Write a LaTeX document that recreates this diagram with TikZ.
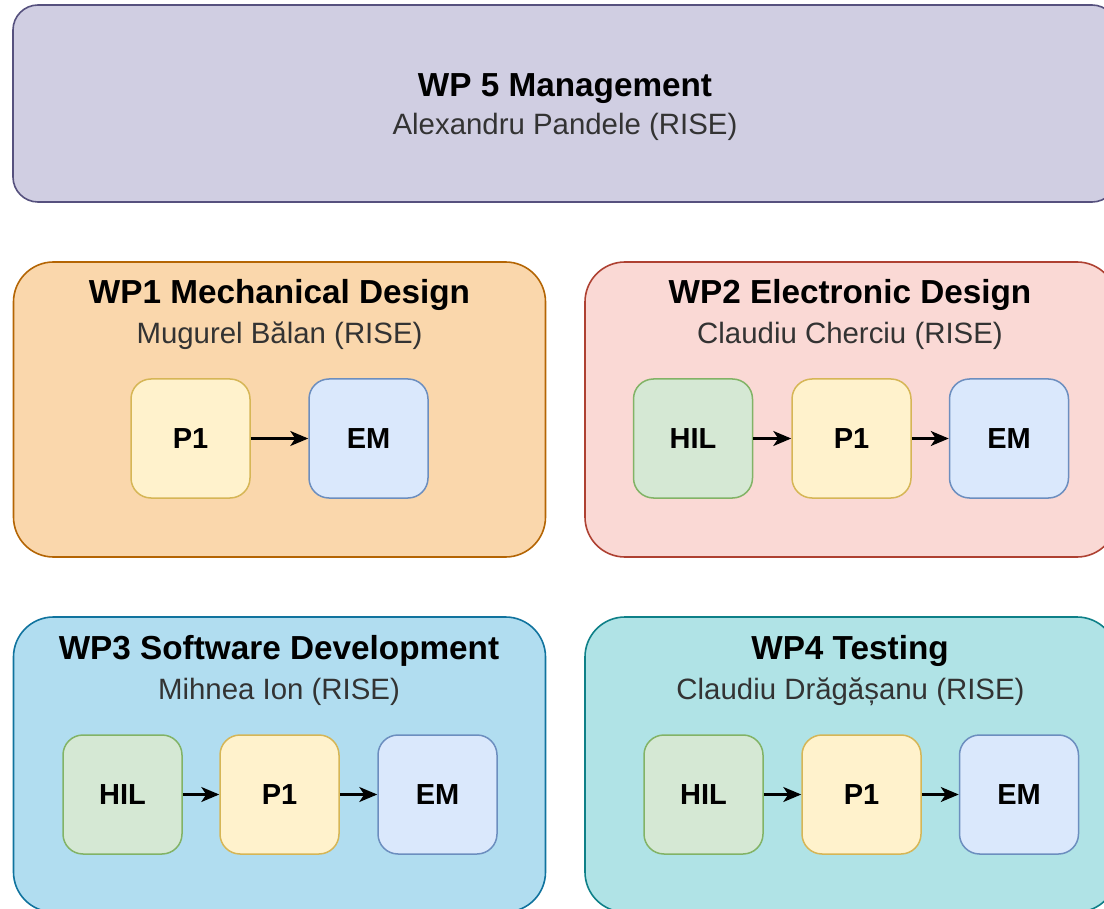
\documentclass[tikz,border=0pt]{standalone}
\usepackage{fontspec}
\setmainfont{Liberation Sans}
\usetikzlibrary{arrows.meta}

\definecolor{mgmtFill}{HTML}{D0CEE2}
\definecolor{mgmtLine}{HTML}{56517E}
\definecolor{mechFill}{HTML}{FAD7AC}
\definecolor{mechLine}{HTML}{B46504}
\definecolor{elecFill}{HTML}{FAD9D5}
\definecolor{elecLine}{HTML}{AE4132}
\definecolor{softFill}{HTML}{B1DDF0}
\definecolor{softLine}{HTML}{10739E}
\definecolor{testFill}{HTML}{B0E3E6}
\definecolor{testLine}{HTML}{0E8088}
\definecolor{hilFill}{HTML}{D5E8D4}
\definecolor{hilLine}{HTML}{82B366}
\definecolor{protoFill}{HTML}{FFF2CC}
\definecolor{protoLine}{HTML}{D6B656}
\definecolor{emFill}{HTML}{DAE8FC}
\definecolor{emLine}{HTML}{6C8EBF}
\definecolor{subText}{HTML}{333333}

\tikzset{
  wpbox/.style={rectangle, rounded corners=40pt, line width=1.6pt,
    minimum width=532pt, minimum height=295pt, inner sep=0pt},
  topbox/.style={rectangle, rounded corners=25pt, line width=1.6pt,
    minimum width=1104pt, minimum height=197pt, inner sep=0pt},
  wptitle/.style={anchor=base, inner sep=0pt,
    font=\fontsize{33.3}{40}\bfseries\selectfont},
  wplead/.style={anchor=base, inner sep=0pt, text=subText,
    font=\fontsize{29.4}{36}\selectfont},
  stage/.style={rectangle, rounded corners=20pt, line width=1.5pt,
    minimum width=119pt, minimum height=119pt, inner sep=0pt,
    font=\fontsize{29}{34}\bfseries\selectfont},
  hil/.style={stage, fill=hilFill, draw=hilLine},
  proto/.style={stage, fill=protoFill, draw=protoLine},
  em/.style={stage, fill=emFill, draw=emLine},
  flow/.style={line width=2.2pt, -{Stealth[length=18pt, width=15pt, inset=5pt]}},
}

\begin{document}
\begin{tikzpicture}[x=1pt, y=-1pt]
\useasboundingbox (0,0) rectangle (1104,909);
\clip (0,0) rectangle (1104,909);

% WP5 management banner
\node[topbox, fill=mgmtFill, draw=mgmtLine] (wp5) at (565,103.5) {};
\node[wptitle] (wp5t) at (565,97) {WP 5 Management};
\node[wplead] (wp5l) at (565,135) {Alexandru Pandele (RISE)};

% WP1 mechanical design
\node[wpbox, fill=mechFill, draw=mechLine] (wp1) at (279.5,409.5) {};
\node[wptitle] (wp1t) at (279.5,304) {WP1 Mechanical Design};
\node[wplead] (wp1l) at (279.5,344) {Mugurel Bălan (RISE)};
\node[proto] (wp1p) at (190.5,438.5) {P1};
\node[em] (wp1e) at (368.5,438.5) {EM};
\draw[flow] (wp1p) -- (wp1e);

% WP2 electronic design
\node[wpbox, fill=elecFill, draw=elecLine] (wp2) at (851,409.5) {};
\node[wptitle] (wp2t) at (850,304) {WP2 Electronic Design};
\node[wplead] (wp2l) at (850,344) {Claudiu Cherciu (RISE)};
\node[hil] (wp2h) at (693,438.5) {HIL};
\node[proto] (wp2p) at (851.5,438.5) {P1};
\node[em] (wp2e) at (1009,438.5) {EM};
\draw[flow] (wp2h) -- (wp2p);
\draw[flow] (wp2p) -- (wp2e);

% WP3 software development
\node[wpbox, fill=softFill, draw=softLine] (wp3) at (279.5,764.5) {};
\node[wptitle] (wp3t) at (279,659) {WP3 Software Development};
\node[wplead] (wp3l) at (279,699) {Mihnea Ion (RISE)};
\node[hil] (wp3h) at (122.5,794.5) {HIL};
\node[proto] (wp3p) at (279.5,794.5) {P1};
\node[em] (wp3e) at (437.5,794.5) {EM};
\draw[flow] (wp3h) -- (wp3p);
\draw[flow] (wp3p) -- (wp3e);

% WP4 testing
\node[wpbox, fill=testFill, draw=testLine] (wp4) at (851,764.5) {};
\node[wptitle] (wp4t) at (850,659) {WP4 Testing};
\node[wplead] (wp4l) at (850.5,699) {Claudiu Drăgășanu (RISE)};
\node[hil] (wp4h) at (703.5,794.5) {HIL};
\node[proto] (wp4p) at (861.5,794.5) {P1};
\node[em] (wp4e) at (1019,794.5) {EM};
\draw[flow] (wp4h) -- (wp4p);
\draw[flow] (wp4p) -- (wp4e);
\end{tikzpicture}
\end{document}
